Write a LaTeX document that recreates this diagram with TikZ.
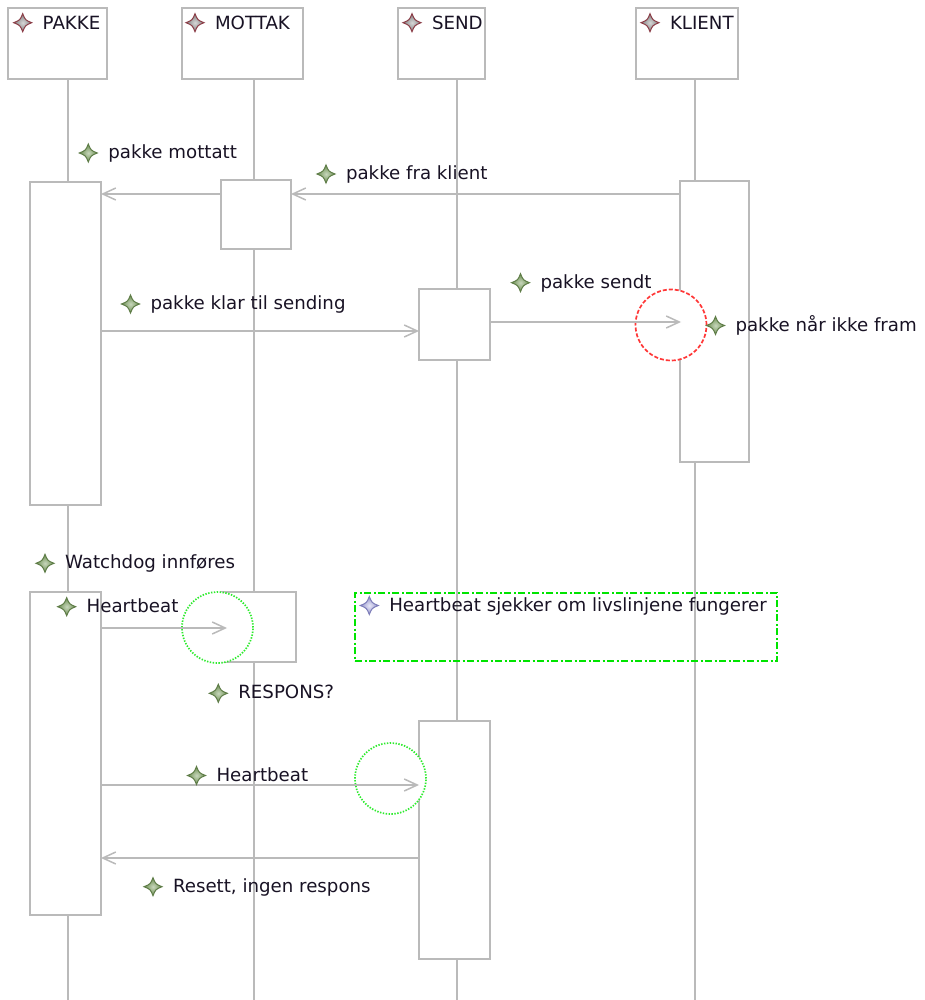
\documentclass[tikz,border=0pt]{standalone}
\usepackage{fontspec}
\setmainfont{DejaVu Sans}
\usetikzlibrary{arrows.meta}

\definecolor{linegray}{RGB}{186,186,186}
\definecolor{txt}{RGB}{24,18,36}
\definecolor{hdredge}{RGB}{140,62,72}
\definecolor{hdrin}{RGB}{215,215,215}
\definecolor{hdrout}{RGB}{125,125,125}
\definecolor{gedge}{RGB}{95,125,72}
\definecolor{gin}{RGB}{200,215,188}
\definecolor{gout}{RGB}{105,140,78}
\definecolor{nedge}{RGB}{125,125,185}
\definecolor{nin}{RGB}{232,232,248}
\definecolor{nout}{RGB}{145,145,200}
\definecolor{lostred}{RGB}{255,55,55}
\definecolor{beatgreen}{RGB}{45,235,45}
\definecolor{notegreen}{RGB}{0,228,0}

\tikzset{
  box/.style={rectangle, draw=linegray, line width=1.6pt, fill=white, inner sep=0pt, outer sep=0pt},
  life/.style={draw=linegray, line width=1.6pt},
  msg/.style={draw=linegray, line width=1.5pt, -{Straight Barb[length=13pt,width=12pt]}},
  lbl/.style={anchor=base west, inner sep=0pt, outer sep=0pt, text=txt, font=\fontsize{18.2}{22}\selectfont},
  beat/.style={circle, draw=beatgreen, fill=white, line width=1.7pt, dash pattern=on 1.4pt off 1.5pt, minimum size=71pt, inner sep=0pt},
  % four-pointed star icons
  hstar/.pic={\path[draw=hdredge, line width=1pt, inner color=hdrin, outer color=hdrout]
    (0,-9) .. controls (2.6,-2.6) .. (9,0) .. controls (2.6,2.6) .. (0,9)
    .. controls (-2.6,2.6) .. (-9,0) .. controls (-2.6,-2.6) .. cycle;},
  gstar/.pic={\path[draw=gedge, line width=1pt, inner color=gin, outer color=gout]
    (0,-9) .. controls (2.6,-2.6) .. (9,0) .. controls (2.6,2.6) .. (0,9)
    .. controls (-2.6,2.6) .. (-9,0) .. controls (-2.6,-2.6) .. cycle;},
  nstar/.pic={\path[draw=nedge, line width=1pt, inner color=nin, outer color=nout]
    (0,-9) .. controls (2.6,-2.6) .. (9,0) .. controls (2.6,2.6) .. (0,9)
    .. controls (-2.6,2.6) .. (-9,0) .. controls (-2.6,-2.6) .. cycle;},
}

% #1 node name, #2 star pic, #3,#4 star centre, #5 text baseline, #6 text
\newcommand\markedtext[6]{%
  \pic at (#3,#4) {#2};
  \node[lbl] (#1) at (#3+20,#5) {#6};}

\begin{document}
\begin{tikzpicture}[x=1pt,y=-1pt]
\useasboundingbox (0,0) rectangle (924,1000);

% lifeline heads
\node[box, minimum width=99pt,  minimum height=71pt] (hP) at (57.5,43.5) {};
\node[box, minimum width=121pt, minimum height=71pt] (hM) at (242.5,43.5) {};
\node[box, minimum width=87pt,  minimum height=71pt] (hS) at (441.5,43.5) {};
\node[box, minimum width=102pt, minimum height=71pt] (hK) at (687,43.5) {};

% lifelines
\coordinate (eP) at (68,1000);
\coordinate (eM) at (254,1000);
\coordinate (eS) at (457,1000);
\coordinate (eK) at (695,1000);
\draw[life] (hP.south -| eP) -- (eP);
\draw[life] (hM.south -| eM) -- (eM);
\draw[life] (hS.south -| eS) -- (eS);
\draw[life] (hK.south -| eK) -- (eK);

% activation bars
\node[box, minimum width=71pt, minimum height=323pt] (pa1) at (65.5,343.5) {};
\node[box, minimum width=70pt, minimum height=69pt]  (mo1) at (256,214.5) {};
\node[box, minimum width=71pt, minimum height=71pt]  (se1) at (454.5,324.5) {};
\node[box, minimum width=69pt, minimum height=281pt] (kl1) at (714.5,321.5) {};
\node[box, minimum width=71pt, minimum height=323pt] (pa2) at (65.5,753.5) {};
\node[box, minimum width=75pt, minimum height=70pt]  (mo2) at (258.5,627) {};
\node[box, minimum width=71pt, minimum height=238pt] (se2) at (454.5,840) {};

% highlight circles
\node[circle, draw=lostred, fill=white, line width=1.7pt, dash pattern=on 4pt off 2pt,
      minimum size=71pt, inner sep=0pt] (lost) at (671,325) {};
\node[beat] (beat1) at (217.5,627.5) {};
\node[beat] (beat2) at (390.5,778.5) {};

% note frame
\node[rectangle, draw=notegreen, line width=2.3pt,
      dash pattern=on 7pt off 2.5pt on 2pt off 2.5pt,
      minimum width=422pt, minimum height=68pt, inner sep=0pt] (note) at (566,627) {};

% messages
\coordinate (lostend) at (681,322);
\coordinate (beat1end) at (227,628);
\draw[msg] (kl1.west |- 0,194) -- (mo1.east |- 0,194);
\draw[msg] (mo1.west |- 0,194) -- (pa1.east |- 0,194);
\draw[msg] (pa1.east |- 0,331) -- (se1.west |- 0,331);
\draw[msg] (se1.east |- lostend) -- (lostend);
\draw[msg] (pa2.east |- beat1end) -- (beat1end);
\draw[msg] (pa2.east |- 0,785) -- (se2.west |- 0,785);
\draw[msg] (se2.west |- 0,858) -- (pa2.east |- 0,858);

% head titles
\markedtext{tP}{hstar}{22.7}{22.7}{29.3}{PAKKE}
\markedtext{tM}{hstar}{195}{22.7}{29.3}{MOTTAK}
\markedtext{tS}{hstar}{412}{22.7}{29.3}{SEND}
\markedtext{tK}{hstar}{650}{22.7}{29.3}{KLIENT}

% message labels
\markedtext{lMottatt}{gstar}{88.3}{153}{158.5}{pakke mottatt}
\markedtext{lFra}{gstar}{326}{174}{179.5}{pakke fra klient}
\markedtext{lKlar}{gstar}{130.5}{304}{309.5}{pakke klar til sending}
\markedtext{lSendt}{gstar}{520.5}{282.7}{288.2}{pakke sendt}
\markedtext{lIkke}{gstar}{715.5}{325.5}{331}{pakke når ikke fram}
\markedtext{lWatch}{gstar}{45}{563.3}{568.8}{Watchdog innføres}
\markedtext{lBeat1}{gstar}{66.7}{606.7}{612.2}{Heartbeat}
\markedtext{lResp}{gstar}{218.3}{693.3}{698.8}{RESPONS?}
\markedtext{lNote}{nstar}{369.3}{605.5}{611}{Heartbeat sjekker om livslinjene fungerer}
\markedtext{lBeat2}{gstar}{196.5}{775.5}{781}{Heartbeat}
\markedtext{lReset}{gstar}{153}{886.7}{892.2}{Resett, ingen respons}
\end{tikzpicture}
\end{document}
